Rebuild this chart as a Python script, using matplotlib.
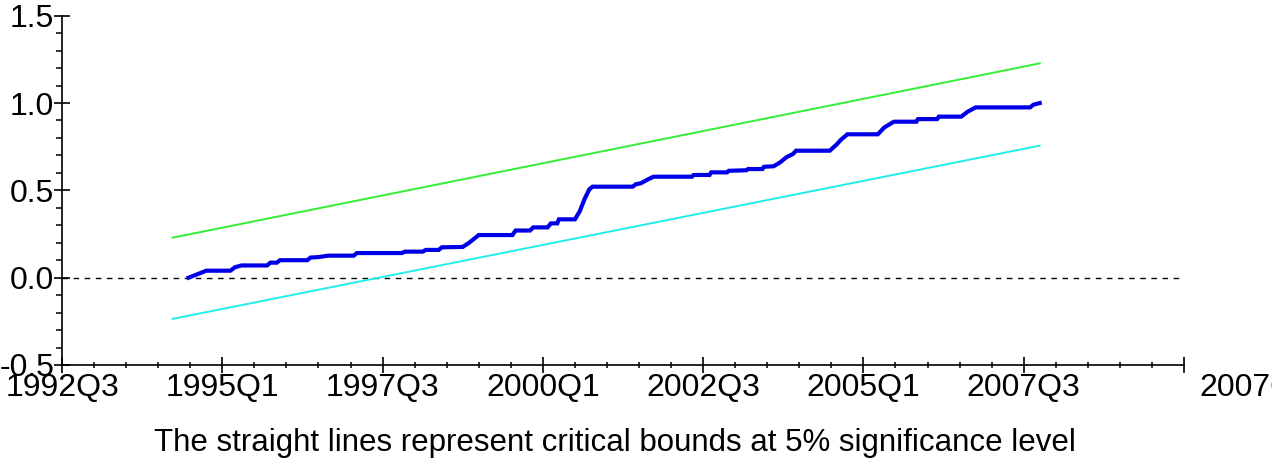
import matplotlib
matplotlib.use("Agg")
import matplotlib.pyplot as plt
from matplotlib.ticker import MultipleLocator

plt.rcParams['font.family'] = ['Liberation Sans', 'DejaVu Sans']

# x positions: quarters elapsed since 1992Q3
cusum_q = [7.9, 8.6, 9.0, 10.5, 10.8, 11.2, 12.8, 13.0, 13.4, 13.6, 15.3, 15.5, 16.0, 16.6,
           18.2, 18.4, 21.2, 21.4, 22.5, 22.7, 23.5, 23.7, 25.0, 25.4, 26.0, 28.1, 28.3,
           29.2, 29.4, 30.3, 30.5, 30.9, 31.0, 32.0, 32.3, 32.6, 32.9, 33.1, 35.6, 35.8,
           36.1, 36.5, 36.9, 39.3, 39.4, 40.4, 40.5, 41.5, 41.6, 42.7, 42.8, 43.7, 43.8,
           44.4, 44.8, 45.2, 45.6, 45.8, 47.9, 48.3, 48.6, 49.0, 50.9, 51.3, 51.9, 53.3,
           53.4, 54.6, 54.7, 56.1, 56.5, 57.0, 60.4, 60.6, 61.0]
cusum_sq = [0.0, 0.025, 0.04, 0.04, 0.06, 0.07, 0.07, 0.086, 0.086, 0.10, 0.10, 0.115, 0.118, 0.126,
            0.126, 0.141, 0.141, 0.149, 0.149, 0.159, 0.159, 0.174, 0.176, 0.20, 0.244, 0.244, 0.27,
            0.27, 0.288, 0.288, 0.311, 0.311, 0.334, 0.334, 0.38, 0.45, 0.506, 0.521, 0.521, 0.535,
            0.54, 0.56, 0.578, 0.578, 0.588, 0.588, 0.603, 0.603, 0.612, 0.615, 0.622, 0.622, 0.635,
            0.638, 0.66, 0.69, 0.708, 0.727, 0.727, 0.76, 0.79, 0.821, 0.821, 0.86, 0.893, 0.893,
            0.908, 0.908, 0.922, 0.922, 0.95, 0.975, 0.975, 0.99, 1.0]

bound_q = [6.9, 61.0]
upper_bound = [0.229, 1.227]
lower_bound = [-0.236, 0.756]

tick_q = [0, 10, 20, 30, 40, 50, 60, 70]
tick_labels = ['1992Q3', '1995Q1', '1997Q3', '2000Q1', '2002Q3', '2005Q1', '2007Q3', '']
edge_label = '2007Q4'
caption = 'The straight lines represent critical bounds at 5% significance level'

fig = plt.figure(figsize=(12.72, 4.74), dpi=100)
ax = fig.add_axes([62/1272, 109/474, (1184-62)/1272, (365-15.7)/474])

ax.axhline(0, color='black', lw=1.0, ls=(0, (4, 4)), zorder=1)
ax.plot(bound_q, upper_bound, color='#33EE33', lw=1.4, zorder=2)
ax.plot(bound_q, lower_bound, color='#22EEEE', lw=1.4, zorder=2)
ax.plot(cusum_q, cusum_sq, color='#0000E6', lw=3.0, solid_joinstyle='miter', zorder=3)

ax.set_xlim(0, 70)
ax.set_ylim(-0.5, 1.5)
ax.set_xticks(tick_q)
ax.set_xticklabels(tick_labels)
ax.xaxis.set_minor_locator(MultipleLocator(2))
ax.set_yticks([-0.5, 0.0, 0.5, 1.0, 1.5])
ax.set_yticklabels(['-0.5', '0.0', '0.5', '1.0', '1.5'])
ax.yaxis.set_minor_locator(MultipleLocator(0.1))

for s in ['top', 'right']:
    ax.spines[s].set_visible(False)
for s in ['left', 'bottom']:
    ax.spines[s].set_linewidth(1.2)

ax.tick_params(axis='both', which='major', direction='inout', length=11, width=1.2,
               labelsize=23, colors='black')
ax.tick_params(axis='x', which='major', pad=0)
ax.tick_params(axis='y', which='major', pad=0)
ax.tick_params(axis='x', which='minor', direction='inout', length=5, width=1.1)
ax.tick_params(axis='y', which='minor', direction='out', length=4, width=1.1)

fig.text(1199/1272, 1 - 388/474, edge_label, fontsize=23, ha='left', va='center')
fig.text(615/1272, 1 - 443/474, caption, fontsize=22.5, ha='center', va='center')

fig.savefig('out.png', dpi=100)
